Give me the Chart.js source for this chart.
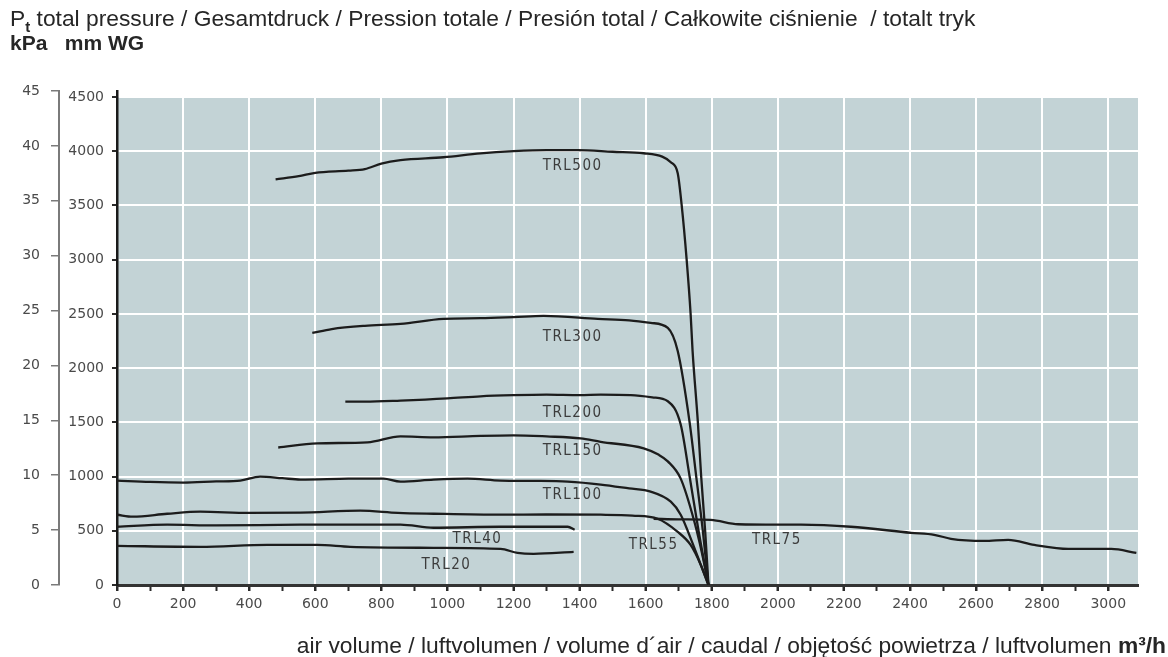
<!DOCTYPE html>
<html>
<head>
<meta charset="utf-8">
<script src="https://cdn.jsdelivr.net/npm/chart.js@4.4.1/dist/chart.umd.min.js"></script>
<style>
  body { margin: 0; background: #fff; }
  #wrap { position: relative; width: 1168px; height: 657px; overflow: hidden; }
  #title { position: absolute; left: 10px; top: 5px; font: 22.8px "Liberation Sans", Arial, sans-serif; color: #262626; white-space: nowrap; line-height: 26px; }
  #title sub { font-size: 15px; font-weight: bold; vertical-align: -6px; line-height: 0; }
  #units { position: absolute; left: 10px; top: 30px; font: bold 21px "Liberation Sans", Arial, sans-serif; color: #262626; white-space: pre; line-height: 26px; }
  #xtitle { position: absolute; right: 2px; top: 632px; font: 22.8px "Liberation Sans", Arial, sans-serif; color: #262626; white-space: nowrap; line-height: 26px; }
</style>
</head>
<body>
<div id="wrap">
  <canvas id="chart" width="1168" height="657"></canvas>
  <div id="title">P<sub>t</sub> total pressure / Gesamtdruck / Pression totale / Presión total / Całkowite ciśnienie &nbsp;/ totalt tryk</div>
  <div id="units">kPa   mm WG</div>
  <div id="xtitle">air volume / luftvolumen / volume d´air / caudal / objętość powietrza / luftvolumen <b>m³/h</b></div>
</div>
<script>
// curve data: [air volume m3/h, pressure mm WG]
const trl500 = [[480,3740],[550,3770],[600,3800],[700,3820],[750,3835],[800,3885],[858,3917],[988,3944],[1100,3980],[1200,4000],[1300,4010],[1394,4010],[1500,3995],[1594,3981],[1650,3950],[1676,3898],[1697,3796],[1709,3500],[1724,3000],[1736,2500],[1742,2157],[1758,1500],[1768,1000],[1780,500],[1790,0]];
const trl300 = [[591,2324],[650,2360],[750,2390],[858,2407],[988,2454],[1100,2460],[1200,2470],[1291,2481],[1455,2454],[1550,2440],[1615,2417],[1667,2370],[1697,2157],[1733,1500],[1753,1000],[1773,500],[1790,0]];
const trl200 = [[691,1690],[750,1690],[858,1700],[1000,1720],[1100,1740],[1200,1750],[1300,1755],[1400,1750],[1464,1755],[1555,1750],[1620,1730],[1667,1694],[1706,1480],[1733,1000],[1760,500],[1790,0]];
const trl150 = [[488,1268],[606,1306],[758,1315],[858,1370],[958,1361],[1100,1375],[1200,1380],[1300,1370],[1403,1352],[1464,1320],[1594,1260],[1640,1200],[1667,1140],[1706,981],[1745,611],[1770,300],[1790,0]];
const trl100 = [[0,963],[100,950],[200,944],[300,955],[373,963],[433,1000],[500,985],[555,972],[700,980],[806,981],[858,953],[958,972],[1061,981],[1161,963],[1264,960],[1364,953],[1464,926],[1550,890],[1615,861],[1676,768],[1706,648],[1740,400],[1765,200],[1790,0]];
const trl75 = [[1624,611],[1700,605],[1797,600],[1880,560],[2000,556],[2070,556],[2221,537],[2403,481],[2473,463],[2524,426],[2624,407],[2697,417],[2776,370],[2879,333],[3009,333],[3085,296]];
const trl55 = [[0,648],[48,630],[152,657],[252,676],[400,665],[555,667],[736,685],[850,665],[958,657],[1161,648],[1300,650],[1464,648],[1560,640],[1636,611],[1697,490],[1736,370],[1767,185],[1790,0]];
const trl40 = [[0,537],[152,556],[300,550],[555,556],[858,556],[958,528],[1161,537],[1364,537],[1385,509]];
const trl20 = [[0,361],[252,352],[455,370],[606,370],[706,352],[958,343],[1161,333],[1212,296],[1261,287],[1382,305]];

const seriesNames = ['TRL500', 'TRL300', 'TRL200', 'TRL150', 'TRL100', 'TRL75', 'TRL55', 'TRL40', 'TRL20'];
const seriesData = [trl500, trl300, trl200, trl150, trl100, trl75, trl55, trl40, trl20];

// where each curve name is written, in chart units
const labelX = [1379, 1379, 1379, 1379, 1379, 1997, 1624, 1091, 997];
const labelY = [3861, 2290, 1583, 1231, 833, 416, 370, 426, 185];

// axis ticks
const xTicks = [0, 200, 400, 600, 800, 1000, 1200, 1400, 1600, 1800, 2000, 2200, 2400, 2600, 2800, 3000];
const xMinorTicks = [0, 100, 200, 300, 400, 500, 600, 700, 800, 900, 1000, 1100, 1200, 1300, 1400, 1500, 1600, 1700, 1800, 1900, 2000, 2100, 2200, 2300, 2400, 2500, 2600, 2700, 2800, 2900, 3000];
const mmTicks = [0, 500, 1000, 1500, 2000, 2500, 3000, 3500, 4000, 4500];
const kpaTicks = [0, 5, 10, 15, 20, 25, 30, 35, 40, 45];

const xMax = 3090;
const mmMax = 4555;   // 45 kPa sits a little above 4500 mm WG
const kpaMax = 45;

const tickFont = { family: 'DejaVu Sans', size: 14 };
const tickColor = '#4a4a4a';

const useTicks = list => scale => { scale.ticks = list.map(v => ({ value: v })); };

// fill the plot area (up to the 4500 line) before the grid is drawn
const plotBg = {
  id: 'plotBg',
  beforeDraw(chart) {
    const { ctx, chartArea: a, scales } = chart;
    const top = scales.y.getPixelForValue(mmTicks[mmTicks.length - 1]);
    ctx.save();
    ctx.fillStyle = '#c3d3d6';
    ctx.fillRect(a.left, top, a.right - a.left, a.bottom - top);
    ctx.restore();
  }
};

// curve names written next to the lines
const curveLabels = {
  id: 'curveLabels',
  afterDatasetsDraw(chart) {
    const { ctx, scales } = chart;
    ctx.save();
    ctx.font = '15px "DejaVu Sans Condensed", "DejaVu Sans", sans-serif';
    ctx.letterSpacing = '1.5px';
    ctx.fillStyle = '#3c3c3c';
    ctx.textAlign = 'center';
    ctx.textBaseline = 'middle';
    seriesNames.forEach((name, i) => {
      ctx.fillText(name, scales.x.getPixelForValue(labelX[i]), scales.y.getPixelForValue(labelY[i]));
    });
    ctx.restore();
  }
};

const datasets = seriesData.map((pts, i) => ({
  label: seriesNames[i],
  data: pts.map(p => ({ x: p[0], y: p[1] })),
  xAxisID: 'x',
  yAxisID: 'y',
  borderColor: '#1c1c1c',
  borderWidth: 2.3,
  pointRadius: 0,
  cubicInterpolationMode: 'monotone',
  fill: false
}));

new Chart(document.getElementById('chart').getContext('2d'), {
  type: 'line',
  data: { datasets: datasets },
  options: {
    responsive: false,
    animation: false,
    events: [],
    layout: { padding: { top: 91, right: 30, bottom: 40, left: 0 } },
    plugins: { legend: { display: false }, tooltip: { enabled: false } },
    scales: {
      x: {
        type: 'linear',
        position: 'bottom',
        weight: 1,
        min: 0,
        max: xMax,
        afterBuildTicks: useTicks(xTicks),
        ticks: { autoSkip: false, maxRotation: 0, padding: 5, font: tickFont, color: tickColor, callback: v => String(v) },
        grid: { color: '#ffffff', lineWidth: 2, tickColor: '#2a2a2a', tickLength: 6, tickWidth: 2 },
        border: { color: '#333', width: 3 },
        afterFit: s => { s.height = 32; }
      },
      // tick marks every 100 m3/h, no labels
      xMinor: {
        type: 'linear',
        position: 'bottom',
        weight: 0,
        min: 0,
        max: xMax,
        afterBuildTicks: useTicks(xMinorTicks),
        ticks: { display: false, autoSkip: false },
        grid: { drawOnChartArea: false, tickColor: '#2a2a2a', tickLength: 6, tickWidth: 2 },
        border: { display: false },
        afterFit: s => { s.height = 0; }
      },
      y: {
        position: 'left',
        weight: 0,
        min: 0,
        max: mmMax,
        afterBuildTicks: useTicks(mmTicks),
        ticks: { autoSkip: false, padding: 8, font: tickFont, color: tickColor, callback: v => String(v) },
        grid: { color: '#ffffff', lineWidth: 2, tickColor: '#2a2a2a', tickLength: 5, tickWidth: 2 },
        border: { color: '#1a1a1a', width: 2.5 },
        afterFit: s => { s.width = 58; }
      },
      kpa: {
        position: 'left',
        weight: 1,
        min: 0,
        max: kpaMax,
        afterBuildTicks: useTicks(kpaTicks),
        ticks: { autoSkip: false, padding: 11, font: tickFont, color: tickColor, callback: v => String(v) },
        grid: { drawOnChartArea: false, color: '#7a7a7a', tickColor: '#7a7a7a', tickLength: 8, lineWidth: 1.5 },
        border: { color: '#7a7a7a', width: 2 },
        afterFit: s => { s.width = 59; }
      }
    }
  },
  plugins: [plotBg, curveLabels]
});
</script>
</body>
</html>
